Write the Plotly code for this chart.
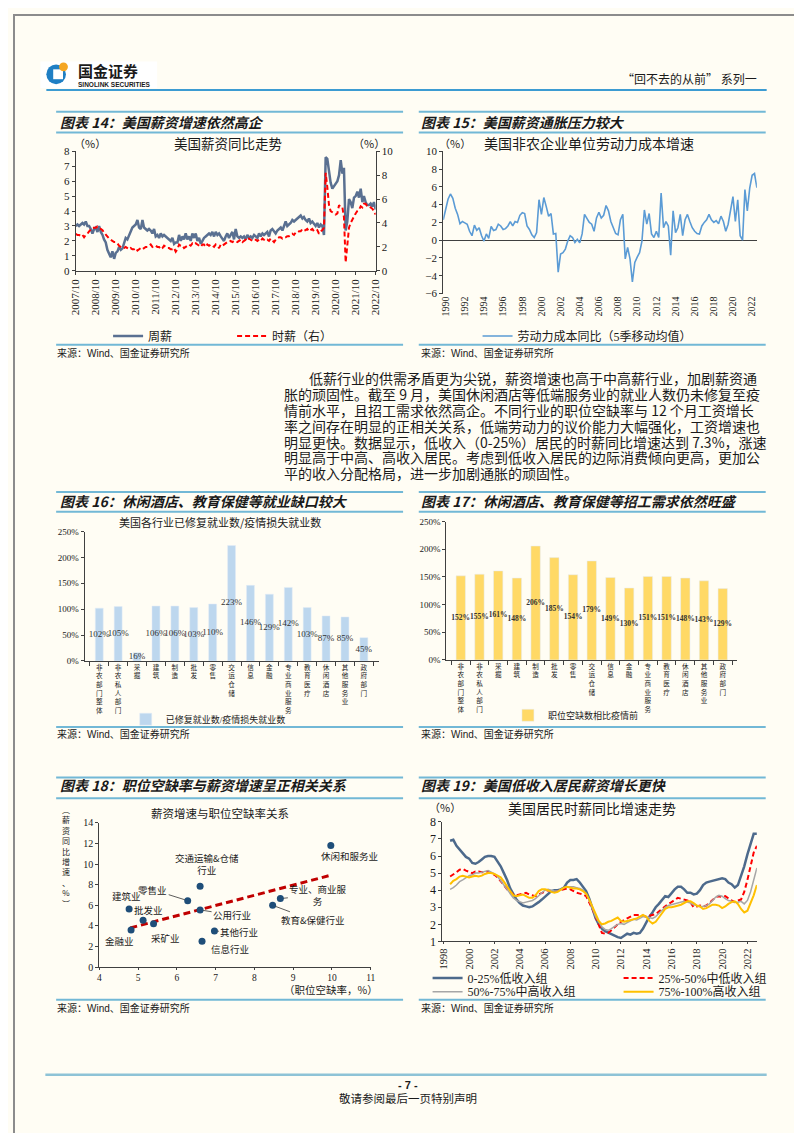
import pandas as pd
import plotly.graph_objects as go

W, H = 802, 1133
BG = '#fffdf4'
INK = '#1a1a1a'
AXIS = '#404040'
RULE = '#72b8d6'
SERIF = 'Liberation Serif, Noto Sans CJK SC'
SANS = 'Noto Sans CJK SC'

# ---------- 图表14：美国薪资同比（月度，2007/10 - 2022/10） ----------
weekly_wage = [
    3.0, 3.1, 3.0,
    3.1, 3.2, 3.1, 3.3, 3.0, 3.0, 2.8, 2.5, 2.8, 2.9, 2.6, 3.0,
    2.6, 2.4, 2.1, 1.9, 1.4, 1.1, 0.9, 1.3, 0.8, 1.2, 1.3, 1.6,
    1.4, 1.5, 1.9, 2.2, 2.1, 2.4, 2.6, 2.9, 3.0, 3.1, 3.4, 2.9,
    2.8, 3.4, 2.9, 2.8, 2.7, 2.8, 2.7, 2.5, 2.8, 2.3, 2.4, 2.2,
    2.5, 2.3, 2.4, 2.3, 2.2, 2.1, 2.0, 2.2, 1.8, 1.9, 1.9, 2.4,
    2.0, 2.3, 2.1, 2.5, 2.1, 2.3, 2.0, 2.5, 2.2, 2.5, 2.0, 2.2,
    1.8, 2.0, 2.2, 2.3, 2.4, 2.5, 2.4, 2.6, 2.3, 2.6, 2.4, 2.5,
    2.3, 2.1, 2.0, 2.3, 2.5, 2.2, 2.4, 2.6, 2.1, 2.8, 2.3, 2.2,
    2.3, 2.2, 2.3, 2.1, 2.4, 2.2, 2.3, 2.2, 2.4, 2.3, 2.2, 2.5,
    2.3, 2.5, 2.4, 2.5, 2.6, 2.3, 2.7, 2.8, 2.6, 2.5, 2.7, 2.8,
    2.9, 2.7, 3.0, 3.3, 3.0, 3.1, 3.2, 3.4, 3.3, 3.4, 3.5, 3.6,
    3.7, 3.5, 3.6, 3.4, 3.3, 3.5, 3.2, 3.3, 3.1, 3.0, 3.2, 2.9,
    3.1, 3.0, 2.4, 7.6, 7.5, 6.6, 5.9, 5.5, 5.7, 5.8, 6.0, 6.4,
    7.4, 6.5, 6.9, 2.7, 3.3, 4.8, 4.6, 4.2, 4.9, 5.0, 5.3, 4.9,
    5.5, 4.6, 5.0, 4.6, 4.4, 4.4, 4.5, 4.3, 4.6, 4.1,
]
hourly_wage = [
    3.1, 3.0, 3.0,
    2.9, 3.0, 2.8, 3.0, 3.1, 3.3, 3.5, 3.6, 3.6, 3.6, 3.7, 3.6,
    3.5, 3.4, 3.2, 3.0, 2.8, 2.7, 2.6, 2.5, 2.4, 2.4, 2.3, 2.1,
    2.0, 1.9, 1.9, 2.0, 1.9, 1.8, 1.9, 1.8, 1.8, 1.9, 1.7, 1.8,
    1.9, 1.8, 1.9, 2.0, 2.0, 2.1, 2.2, 2.0, 2.1, 2.1, 2.0, 2.0,
    1.8, 1.9, 2.1, 2.0, 1.9, 1.9, 1.8, 1.8, 1.9, 1.6, 1.8, 2.2,
    2.1, 2.1, 1.9, 2.0, 2.1, 2.2, 2.1, 2.3, 2.2, 2.3, 2.2, 2.1,
    2.0, 2.2, 2.2, 2.0, 2.2, 2.1, 2.2, 2.1, 2.0, 2.2, 2.1, 1.9,
    2.2, 2.1, 2.2, 2.3, 2.4, 2.4, 2.5, 2.4, 2.5, 2.5, 2.4, 2.5,
    2.6, 2.4, 2.5, 2.6, 2.5, 2.7, 2.6, 2.5, 2.6, 2.6, 2.5, 2.6,
    2.5, 2.7, 2.6, 2.5, 2.6, 2.5, 2.7, 2.5, 2.4, 2.6, 2.7, 2.8,
    2.8, 2.7, 2.8, 2.8, 2.9, 2.9, 3.0, 3.1, 3.0, 3.2, 3.2, 3.3,
    3.3, 3.5, 3.4, 3.4, 3.5, 3.3, 3.4, 3.5, 3.3, 3.3, 3.4, 3.1,
    3.3, 3.4, 3.6, 8.2, 7.0, 5.5, 5.0, 4.9, 4.8, 4.7, 4.8, 5.5,
    5.3, 5.3, 4.5, 0.7, 2.1, 3.6, 4.0, 4.3, 4.6, 4.8, 5.0, 5.1,
    5.4, 5.3, 5.6, 5.6, 5.4, 5.4, 5.3, 5.2, 5.0, 4.7,
]
wage_months = pd.date_range('2007-10-01', periods=len(weekly_wage), freq='MS')

# ---------- 图表15：非农企业单位劳动力成本同比（季度，5季移动均值） ----------
unit_labor_cost = [
    2.3, 3.6, 4.6, 5.2, 4.7, 3.6, 2.9, 1.85, 2.1, 1.95, 1.8, 1.0, 0.5, 1.7, 1.1, 1.4,
    0.5, -0.1, 0.7, 0.2, 1.55, 1.1, 1.2, 1.8, 1.6, 1.2, 1.3, 1.6, 2.1, 1.6, 2.1, 2.0,
    2.8, 3.1, 3.0, 1.6, 1.2, 0.6, 0.3, 0.85, 4.55, 2.9, 4.8, 3.8, 2.7, 3.0, 0.7, 0.75,
    -3.6, -1.55, -1.4, -1.0, -0.1, 0.5, 0.3, -0.25, 0.1, -0.3, 0.7, 2.9, 2.5, 2.0, 1.8, 1.0,
    2.5, 3.15, 2.5, 2.8, 3.9, 3.3, 2.1, 1.4, 0.75, 0.6, 2.3, 2.9, -2.1, -0.8, -2.1, -4.7,
    -2.5, -1.9, -1.4, -0.1, 3.4, 1.8, 3.0, 0.7, 0.3, 1.0, 0.3, 5.3, 1.4, 2.1, 1.6, -1.7,
    3.3, 0.85, 1.4, 2.9, 0.5, 2.3, 2.9, 2.1, 1.4, 1.0, 0.75, 0.7, 1.6, 2.0, 2.3, 2.9,
    2.3, 2.0, 2.2, 1.85, 2.7, 2.1, 1.0, 1.8, 3.3, 4.9, 2.1, 4.55, 0.5, 0.0, 5.7, 3.3,
    5.85, 7.3, 7.5, 5.9,
]
ulc_quarters = pd.date_range('1989-10-01', periods=len(unit_labor_cost), freq='QS')

# ---------- 图表16 / 17：分行业 ----------
industries = ['非农部门整体', '非农私人部门', '采掘', '建筑', '制造', '批发', '零售', '交运仓储',
              '信息', '金融', '专业商业服务', '教育医疗', '休闲酒店', '其他服务业', '政府部门']
recovered_ratio = [102, 105, 16, 106, 106, 103, 110, 223, 146, 129, 142, 103, 87, 85, 45]
vacancy_ratio = [152, 155, 161, 148, 206, 185, 154, 179, 149, 130, 151, 151, 148, 143, 129]

# ---------- 图表18：职位空缺率 vs 薪资增速 ----------
sc_names = ['休闲和服务业', '交通运输&仓储行业', '零售业', '专业、商业服务', '教育&保健行业', '建筑业',
            '公用行业', '批发业', '采矿业', '金融业', '其他行业', '信息行业']
sc_vacancy = [9.97, 6.6, 6.28, 8.67, 8.47, 4.77, 6.6, 5.13, 5.4, 4.82, 6.97, 6.65]
sc_wage = [11.8, 7.85, 6.45, 6.65, 6.0, 5.65, 5.55, 4.55, 4.2, 3.6, 3.5, 2.5]
trend_vacancy = [4.8, 10.0]
trend_wage = [3.8, 8.95]

# ---------- 图表19：分收入组时薪同比（季度取值） ----------
q_low = [
    6.9, 6.95,
    6.6, 6.4, 6.2, 5.95,
    5.85, 5.6, 5.55, 5.65,
    5.8, 5.95, 6.0, 6.0,
    5.95, 5.7, 5.4, 5.0,
    4.6, 4.1, 3.8, 3.45,
    3.25, 3.1, 3.05, 3.0,
    3.05, 3.15, 3.3, 3.45,
    3.6, 3.8, 3.95, 4.0,
    4.0, 4.05, 4.15, 4.45,
    4.6, 4.6, 4.65, 4.45,
    4.2, 3.95, 3.5, 2.9,
    2.35, 2.0, 1.75, 1.6,
    1.5, 1.4, 1.3, 1.25,
    1.2, 1.3, 1.45, 1.4,
    1.5, 1.45, 1.5, 1.75,
    2.15, 2.45, 2.7, 3.0,
    3.2, 3.4, 3.65, 3.6,
    3.85, 4.05, 4.2, 4.2,
    4.05, 3.85, 3.85, 3.75,
    3.8, 4.0, 4.3, 4.45,
    4.5, 4.55, 4.6, 4.65,
    4.7, 4.65, 4.45, 4.35,
    4.15, 4.3, 4.85, 5.4,
    6.1, 6.7, 7.3, 7.3,
]
q_midlow = [
    4.8, 4.9,
    5.05, 5.2, 5.25, 5.15,
    5.05, 5.0, 5.1, 5.1,
    5.05, 5.05, 5.1, 5.0,
    4.9, 4.75, 4.55, 4.3,
    4.05, 3.9, 3.75, 3.7,
    3.75, 3.8, 3.85, 3.75,
    3.7, 3.65, 3.75, 3.85,
    3.95, 4.0, 3.95, 3.9,
    3.95, 4.0, 4.05, 4.1,
    4.05, 3.95, 3.85, 3.8,
    3.75, 3.65, 3.3, 2.9,
    2.45, 2.0, 1.5, 1.45,
    1.5, 1.65, 1.85, 2.0,
    2.15, 2.25, 2.35, 2.45,
    2.55, 2.55, 2.55, 2.5,
    2.45, 2.5, 2.55, 2.6,
    2.75, 2.9, 3.1, 3.2,
    3.3, 3.4, 3.55, 3.5,
    3.45, 3.4, 3.3, 3.0,
    3.05, 3.1, 3.05, 3.1,
    3.25, 3.4, 3.6, 3.65,
    3.6, 3.65, 3.5, 3.4,
    3.3, 3.4, 3.45, 3.9,
    4.6, 5.4, 6.2, 6.6,
]
q_midhigh = [
    4.05, 4.15,
    4.3, 4.5, 4.6, 4.75,
    4.85, 4.9, 5.0, 5.0,
    5.05, 5.1, 5.15, 5.05,
    4.95, 4.8, 4.55, 4.25,
    4.0, 3.75, 3.55, 3.4,
    3.3, 3.25, 3.3, 3.35,
    3.4, 3.5, 3.7, 3.85,
    4.0, 4.05, 4.0, 3.95,
    3.95, 4.05, 4.15, 4.2,
    4.2, 4.2, 4.15, 4.1,
    4.0, 3.8, 3.4, 2.9,
    2.45, 2.15, 1.85, 1.7,
    1.65, 1.75, 1.9, 2.0,
    2.05, 2.0, 2.1, 2.2,
    2.3, 2.25, 2.35, 2.45,
    2.45, 2.4, 2.35, 2.45,
    2.65, 2.85, 3.0, 3.1,
    3.15, 3.2, 3.25, 3.3,
    3.35, 3.3, 3.25, 3.15,
    3.1, 3.05, 3.05, 3.1,
    3.2, 3.4, 3.6, 3.7,
    3.65, 3.5, 3.4, 3.35,
    3.3, 3.3, 3.35, 3.2,
    3.4, 3.9, 4.6, 5.3,
]
q_high = [
    4.35, 4.55,
    4.65, 4.8, 4.85, 4.8,
    4.75, 4.8, 4.85, 4.8,
    4.85, 4.95, 5.0, 5.0,
    4.95, 4.85, 4.75, 4.5,
    4.2, 3.95, 3.7, 3.65,
    3.7, 3.75, 3.65, 3.55,
    3.55, 3.7, 3.95, 4.05,
    4.05, 4.0, 3.9, 3.85,
    3.9, 4.0, 4.15, 4.2,
    4.15, 4.1, 4.1, 4.05,
    3.95, 3.8, 3.45, 3.0,
    2.55, 2.2, 2.0, 2.05,
    2.15, 2.2, 2.3, 2.4,
    2.2, 2.15, 2.2, 2.25,
    2.3, 2.35, 2.45, 2.55,
    2.45, 2.2, 2.05, 2.15,
    2.4, 2.65, 2.9, 3.0,
    3.0, 3.05, 3.1, 3.15,
    3.25, 3.35, 3.35, 3.25,
    3.1, 3.05, 2.9, 2.95,
    3.05, 3.15, 3.15, 3.1,
    2.95, 3.05, 3.2, 3.3,
    3.35, 3.2, 2.9, 2.7,
    2.8, 3.2, 3.7, 4.3,
]
income_quarters = pd.date_range('1998-07-01', periods=len(q_low), freq='QS')

body_lines = [
    '低薪行业的供需矛盾更为尖锐，薪资增速也高于中高薪行业，加剧薪资通',
    '胀的顽固性。截至 9 月，美国休闲酒店等低端服务业的就业人数仍未修复至疫',
    '情前水平，且招工需求依然高企。不同行业的职位空缺率与 12 个月工资增长',
    '率之间存在明显的正相关关系，低端劳动力的议价能力大幅强化，工资增速也',
    '明显更快。数据显示，低收入（0-25%）居民的时薪同比增速达到 7.3%，涨速',
    '明显高于中高、高收入居民。考虑到低收入居民的边际消费倾向更高，更加公',
    '平的收入分配格局，进一步加剧通胀的顽固性。',
]


def px(x):
    return x / W


def py(y):
    return 1 - y / H


def dom_x(a, b):
    return [a / W, b / W]


def dom_y(top, bottom):
    return [1 - bottom / H, 1 - top / H]


def axis(**kw):
    base = dict(showline=True, linecolor=AXIS, linewidth=1, ticks='outside', ticklen=3,
                tickcolor=AXIS, showgrid=False, zeroline=False,
                tickfont=dict(family=SERIF, size=11, color=INK))
    base.update(kw)
    return base


def text(x, y, s, size=12, anchor='left', family=SANS, color=INK, **font_extra):
    font = dict(size=size, family=family, color=color)
    font.update(font_extra)
    return dict(xref='paper', yref='paper', x=px(x), y=py(y), text=s, showarrow=False,
                xanchor=anchor, yanchor='middle', font=font)


def rule(x0, x1, y, color=RULE, width=2):
    return dict(type='line', xref='paper', yref='paper', x0=px(x0), x1=px(x1), y0=py(y), y1=py(y),
                line=dict(color=color, width=width))


fig = go.Figure()

# 图表14
fig.add_trace(go.Scatter(x=wage_months, y=weekly_wage, name='周薪', mode='lines',
                         line=dict(color='#5a7091', width=2.5), xaxis='x', yaxis='y', legend='legend'))
fig.add_trace(go.Scatter(x=wage_months, y=hourly_wage, name='时薪（右）', mode='lines',
                         line=dict(color='#ff0000', width=2, dash='5px,3px'), xaxis='x', yaxis='y2',
                         legend='legend'))

# 图表15
fig.add_trace(go.Scatter(x=ulc_quarters, y=unit_labor_cost, name='劳动力成本同比（5季移动均值）', mode='lines',
                         line=dict(color='#5b9bd5', width=1.6), xaxis='x2', yaxis='y3', legend='legend2'))

# 图表16
stacked = ['<br>'.join(list(n)) for n in industries]
fig.add_trace(go.Bar(x=industries, y=recovered_ratio, name='已修复就业数/疫情损失就业数',
                     marker_color='#bdd7ee', width=0.42, xaxis='x3', yaxis='y4', legend='legend3'))
fig.add_trace(go.Scatter(x=industries, y=[v / 2 for v in recovered_ratio], mode='text',
                         text=[f'{v}%' for v in recovered_ratio], showlegend=False,
                         textfont=dict(family=SERIF, size=9, color='#333333'), xaxis='x3', yaxis='y4'))

# 图表17
fig.add_trace(go.Bar(x=industries, y=vacancy_ratio, name='职位空缺数相比疫情前',
                     marker_color='#ffd966', width=0.5, xaxis='x4', yaxis='y5', legend='legend4'))
fig.add_trace(go.Scatter(x=industries, y=[v / 2 for v in vacancy_ratio], mode='text',
                         text=[f'<b>{v}%</b>' for v in vacancy_ratio], showlegend=False,
                         textfont=dict(family=SERIF, size=7.5, color='#333333'), xaxis='x4', yaxis='y5'))

# 图表18
fig.add_trace(go.Scatter(x=trend_vacancy, y=trend_wage, mode='lines', showlegend=False,
                         line=dict(color='#c00000', width=3, dash='7px,4px'), xaxis='x5', yaxis='y6'))
fig.add_trace(go.Scatter(x=sc_vacancy, y=sc_wage, mode='markers', showlegend=False,
                         marker=dict(color='#1f4e79', size=7), xaxis='x5', yaxis='y6'))

# 图表19
fig.add_trace(go.Scatter(x=income_quarters, y=q_low, name='0-25%低收入组', mode='lines',
                         line=dict(color='#4d6a8c', width=2.5), xaxis='x6', yaxis='y7', legend='legend5'))
fig.add_trace(go.Scatter(x=income_quarters, y=q_midlow, name='25%-50%中低收入组', mode='lines',
                         line=dict(color='#ff0000', width=2, dash='5px,3px'), xaxis='x6', yaxis='y7',
                         legend='legend5'))
fig.add_trace(go.Scatter(x=income_quarters, y=q_midhigh, name='50%-75%中高收入组', mode='lines',
                         line=dict(color='#a6a6a6', width=1.5), xaxis='x6', yaxis='y7', legend='legend6'))
fig.add_trace(go.Scatter(x=income_quarters, y=q_high, name='75%-100%高收入组', mode='lines',
                         line=dict(color='#ffc000', width=2), xaxis='x6', yaxis='y7', legend='legend6'))

date_tick = dict(family=SERIF, size=11, color=INK)
cat_tick = dict(family=SANS, size=6.6, color=INK)
pct_tick = dict(family=SERIF, size=9, color=INK)


def leg(x, y, size=12, **kw):
    d = dict(x=px(x), y=py(y), xanchor='left', yanchor='middle', orientation='h',
             bgcolor='rgba(0,0,0,0)', font=dict(family=SERIF, size=size, color=INK),
             itemclick=False, itemdoubleclick=False)
    d.update(kw)
    return d


fig.update_layout(
    width=W, height=H, margin=dict(l=0, r=0, t=0, b=0), autosize=False,
    paper_bgcolor=BG, plot_bgcolor='rgba(0,0,0,0)',
    xaxis=axis(domain=dom_x(63, 369), anchor='y', type='date', range=['2007-10-01', '2022-10-01'],
               tick0='2007-10-01', dtick='M12', tickformat='%Y/%m', tickangle=-90, tickfont=date_tick),
    yaxis=axis(domain=dom_y(138, 259), anchor='x', range=[0, 8], dtick=1),
    yaxis2=axis(overlaying='y', side='right', anchor='x', range=[0, 10], dtick=2),
    xaxis2=axis(domain=dom_x(438, 758), anchor='y3', type='date', range=['1989-10-01', '2022-07-01'],
                tick0='1990-01-01', dtick='M24', tickformat='%Y', tickangle=-90, showline=False,
                ticks='', tickfont=dict(family=SERIF, size=10, color=INK)),
    yaxis3=axis(domain=dom_y(138, 282), anchor='x2', range=[-6, 10], dtick=2, zeroline=True,
                zerolinecolor=AXIS, zerolinewidth=1),
    xaxis3=axis(domain=dom_x(72, 372), anchor='y4', type='category', tickvals=industries, ticktext=stacked,
                tickson='boundaries', tickangle=0, ticklen=4, tickfont=cat_tick),
    yaxis4=axis(domain=dom_y(523, 654), anchor='x3', range=[0, 250], dtick=50, ticksuffix='%', tickfont=pct_tick),
    xaxis4=axis(domain=dom_x(441, 738), anchor='y5', type='category', tickvals=industries, ticktext=stacked,
                tickson='boundaries', tickangle=0, ticklen=4, tickfont=cat_tick),
    yaxis5=axis(domain=dom_y(513, 653), anchor='x4', range=[0, 250], dtick=50, ticksuffix='%', tickfont=pct_tick),
    xaxis5=axis(domain=dom_x(87, 364), anchor='y6', range=[4, 11], dtick=1, ticklen=2,
                tickfont=dict(family=SERIF, size=9.5, color=INK)),
    yaxis6=axis(domain=dom_y(818, 964), anchor='x5', range=[0, 14], dtick=2,
                tickfont=dict(family=SERIF, size=10, color=INK)),
    xaxis6=axis(domain=dom_x(437, 758), anchor='y7', type='date', range=['1997-11-17', '2022-10-01'],
                tick0='1998-01-01', dtick='M24', tickformat='%Y', tickangle=-90, ticklen=2,
                tickfont=dict(family=SERIF, size=10.5, color=INK)),
    yaxis7=axis(domain=dom_y(817, 938), anchor='x6', range=[1, 8], dtick=1,
                tickfont=dict(family=SERIF, size=12, color=INK)),
    legend=leg(96, 325, entrywidth=79),
    legend2=leg(473, 325),
    legend3=leg(114, 713, size=9),
    legend4=leg(504, 709, size=9),
    legend5=leg(422, 975, entrywidth=146),
    legend6=leg(422, 989, entrywidth=146),
)

shapes = [
    dict(type='rect', xref='paper', yref='paper', x0=0, x1=1, y0=0, y1=1, line=dict(color='#8c8c8c', width=2)),
    # logo
    dict(type='rect', xref='paper', yref='paper', x0=px(27), x1=px(146), y0=py(74), y1=py(47),
         fillcolor='white', line=dict(width=0)),
    dict(type='circle', xref='paper', yref='paper', x0=px(33), x1=px(53), y0=py(70), y1=py(50),
         fillcolor='#1f7fc4', line=dict(width=0)),
    dict(type='rect', xref='paper', yref='paper', x0=px(40), x1=px(50), y0=py(65), y1=py(55),
         fillcolor='white', line=dict(width=0)),
    dict(type='circle', xref='paper', yref='paper', x0=px(46), x1=px(55), y0=py(57), y1=py(48),
         fillcolor='#f5a623', line=dict(width=0)),
    rule(33, 768, 76, color='#3d9cd2', width=2),
]
for left, right in [(43, 397), (413, 767)]:
    shapes += [rule(left, right, 98), rule(left, right, 119), rule(left, right, 334),
               rule(left, right, 483), rule(left, right, 503), rule(left, right, 721),
               rule(left, right, 772), rule(left, right, 793), rule(left, right, 997)]
shapes.append(rule(32, 768, 1073, color='#8ec3d6', width=2.5))

title_font = dict(style='italic', weight='bold')
annotations = [
    text(63, 56.5, '<b>国金证券</b>', size=15),
    text(63, 70.5, '<b>SINOLINK SECURITIES</b>', size=6.5, family='Liberation Sans'),
    text(760, 64, '“回不去的从前” 系列一', size=12, anchor='right'),
    text(45, 108, '图表 14：美国薪资增速依然高企', size=14, **title_font),
    text(413, 108, '图表 15：美国薪资通胀压力较大', size=14, **title_font),
    text(45, 492, '图表 16：休闲酒店、教育保健等就业缺口较大', size=14, **title_font),
    text(413, 492, '图表 17：休闲酒店、教育保健等招工需求依然旺盛', size=14, **title_font),
    text(45, 780, '图表 18：职位空缺率与薪资增速呈正相关关系', size=14, **title_font),
    text(413, 780, '图表 19：美国低收入居民薪资增长更快', size=14, **title_font),
    text(218, 130, '美国薪资同比走势', size=13.5, anchor='center'),
    text(78, 130, '（%）', size=11, anchor='center'),
    text(362, 130, '（%）', size=11, anchor='center'),
    text(587, 130, '美国非农企业单位劳动力成本增速', size=14, anchor='center'),
    text(450, 130, '（%）', size=11, anchor='center'),
    text(210, 513, '美国各行业已修复就业数/疫情损失就业数', size=11, anchor='center'),
    text(210, 808, '薪资增速与职位空缺率关系', size=11.5, anchor='center'),
    text(53, 852, '︵<br>薪<br>资<br>同<br>比<br>增<br>速<br>、<br>%<br>︶', size=8, anchor='center'),
    text(323, 987, '（职位空缺率，%）', size=10.5, anchor='center'),
    text(590, 803, '美国居民时薪同比增速走势', size=14, anchor='center'),
    text(440, 802, '（%）', size=11, anchor='center'),
    text(402, 1083, '<b>- 7 -</b>', size=11, anchor='center', family='Liberation Sans'),
    text(402, 1097, '敬请参阅最后一页特别声明', size=11.5, anchor='center'),
]
for left in (42, 413):
    for y in (342, 728, 1005):
        annotations.append(text(left, y, '来源：Wind、国金证券研究所', size=10,
                                family='Liberation Sans, Noto Sans CJK SC'))
for i, line in enumerate(body_lines):
    annotations.append(text(299 if i == 0 else 273, 368 + 16 * i, line, size=14))

# 图表18 数据标签：(显示文字, 横向偏移px, 纵向偏移px(向下为正), 是否带引线)
label_layout = {
    '休闲和服务业': ('休闲和服务业', 19, 10, False),
    '交通运输&仓储行业': ('交通运输&amp;仓储<br>行业', 7, -22, False),
    '零售业': ('零售业', -35, -11, True),
    '专业、商业服务': ('专业、商业服<br>务', 38, -4, True),
    '教育&保健行业': ('教育&amp;保健行业', 40, 15, True),
    '建筑业': ('建筑业', -3, -13, False),
    '公用行业': ('公用行业', 32, 5, True),
    '批发业': ('批发业', 5, -10, False),
    '采矿业': ('采矿业', 12, 14, False),
    '金融业': ('金融业', -12, 11, False),
    '其他行业': ('其他行业', 25, 1, True),
    '信息行业': ('信息行业', 28, 8, False),
}
for name, xv, yv in zip(sc_names, sc_vacancy, sc_wage):
    label, ox, oy, leader = label_layout[name]
    ann = dict(xref='x5', yref='y6', x=xv, y=yv, text=label,
               font=dict(family=SANS, size=9.5, color=INK))
    if leader:
        ann.update(showarrow=True, ax=ox, ay=oy, arrowhead=0, arrowwidth=0.8, arrowcolor='#333333',
                   standoff=3)
    else:
        ann.update(showarrow=False, xshift=ox, yshift=-oy)
    annotations.append(ann)

fig.update_layout(shapes=shapes, annotations=annotations)

fig.write_html("out.html")
